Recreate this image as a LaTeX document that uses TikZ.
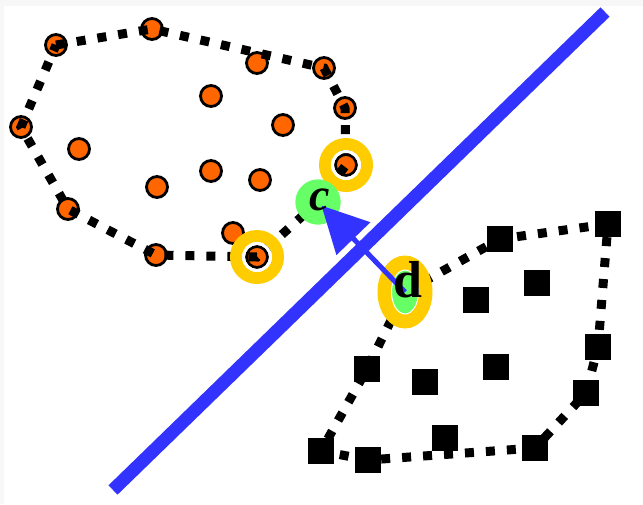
\documentclass[tikz,border=0pt]{standalone}
\usepackage{fontspec}
\setmainfont{Liberation Serif}
\usetikzlibrary{arrows.meta,shapes.geometric}
\definecolor{ptorange}{HTML}{FF6600}
\definecolor{hiyellow}{HTML}{FFCC00}
\definecolor{ptgreen}{HTML}{66FF66}
\definecolor{sepblue}{HTML}{3333FF}

\begin{document}
\begin{tikzpicture}[x=1pt, y=-1pt,
  opoint/.style={circle, draw=black, line width=2.8pt, fill=ptorange, minimum size=21pt, inner sep=0pt},
  spoint/.style={rectangle, fill=black, minimum size=26pt, inner sep=0pt},
  hull/.style={line width=9pt, dash pattern=on 9pt off 12pt},
  ringout/.style={draw=hiyellow, line width=12pt},
  ringgap/.style={draw=white, line width=3pt},
  sepline/.style={sepblue, line width=13pt},
  witness/.style={sepblue, line width=5pt, -{Triangle[length=46pt,width=46pt]}, shorten >=5pt},
  lab/.style={inner sep=0pt, font=\fontsize{#1}{#1}\selectfont\bfseries}
]

% Frame
\useasboundingbox (0,0) rectangle (643,504);
\fill[black!3] (0,0) rectangle (643,504);
\fill[white] (4,6) rectangle (643,504);

% Separating line
\coordinate (s1) at (113,490);
\coordinate (s2) at (605,12);
\draw[sepline] (s1) -- (s2);

% Orange points (class A)
\node[opoint] (a1) at (56,45) {};
\node[opoint] (a2) at (152,29) {};
\node[opoint] (a3) at (257,63) {};
\node[opoint] (a4) at (324,68) {};
\node[opoint] (a5) at (345,108) {};
\node[opoint] (a6) at (346,165) {};
\node[opoint] (a7) at (257,257) {};
\node[opoint] (a8) at (156,255) {};
\node[opoint] (a9) at (68,209) {};
\node[opoint] (a10) at (21,127) {};
\node[opoint] (a11) at (211,96) {};
\node[opoint] (a12) at (283,125) {};
\node[opoint] (a13) at (79,149) {};
\node[opoint] (a14) at (157,187) {};
\node[opoint] (a15) at (211,171) {};
\node[opoint] (a16) at (260,180) {};
\node[opoint] (a17) at (233,233) {};

% Black squares (class B)
\node[spoint] (b1) at (500,239) {};
\node[spoint] (b2) at (608,224) {};
\node[spoint] (b3) at (598,347) {};
\node[spoint] (b4) at (586,393) {};
\node[spoint] (b5) at (535,448) {};
\node[spoint] (b6) at (368,460) {};
\node[spoint] (b7) at (321,451) {};
\node[spoint] (b8) at (367,369) {};
\node[spoint] (b9) at (476,300) {};
\node[spoint] (b10) at (537,283) {};
\node[spoint] (b11) at (425,382) {};
\node[spoint] (b12) at (496,367) {};
\node[spoint] (b13) at (445,438) {};

% Closest pair
\node[circle, fill=ptgreen, minimum size=45pt, inner sep=0pt] (c) at (318,202) {};
\coordinate (dc) at (405,292);

% Hulls
\draw[hull] (a1.center) -- (a2.center) -- (a4.center) -- (a5.center) -- (a6.center)
  -- (c.center) -- (a7.center) -- (a8.center) -- (a9.center) -- (a10.center) -- cycle;
\draw[hull] (dc) -- (b1.center) -- (b2.center) -- (b3.center) -- (b4.center) -- (b5.center)
  -- (b6.center) -- (b7.center) -- (b8.center) -- cycle;

% Highlighted vertices
\foreach \v in {a6,a7} {
  \draw[ringout] (\v) circle[radius=21pt];
  \draw[ringgap] (\v) circle[radius=13.5pt];
}
\node[circle, fill=ptgreen, minimum size=45pt, inner sep=0pt] at (c) {};
\node[ellipse, fill=hiyellow, minimum width=55pt, minimum height=73pt, inner sep=0pt] (dring) at (dc) {};
\node[ellipse, fill=ptgreen, draw=white, line width=1pt, minimum width=27pt, minimum height=44pt, inner sep=0pt] (d) at (dc) {};

% Witness arrow
\draw[witness] (d.center) -- (c.center);

% Labels
\node[lab=46] (clab) at (320,200) {\itshape c};
\node[lab=52] (dlab) at (408,280) {d};

\end{tikzpicture}
\end{document}
